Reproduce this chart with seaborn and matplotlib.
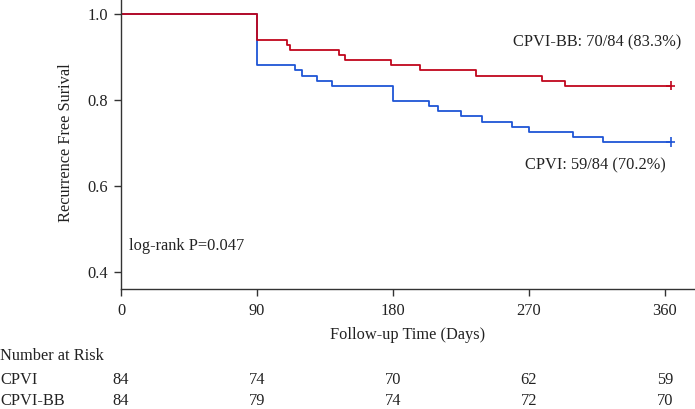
import matplotlib
matplotlib.use("Agg")
import matplotlib.pyplot as plt
import matplotlib.transforms as mtransforms
import numpy as np
import pandas as pd
import seaborn as sns

# ---- data ----
bb_days = [0, 90, 110, 112, 144, 148, 179, 198, 235, 279, 294, 364]
bb_surv = [1.0, 0.940, 0.929, 0.917, 0.905, 0.893, 0.881, 0.869, 0.857, 0.845, 0.833, 0.833]
cpvi_days = [0, 90, 115, 120, 130, 140, 180, 204, 210, 225, 239, 259, 270, 299, 319, 364]
cpvi_surv = [1.0, 0.881, 0.869, 0.857, 0.845, 0.833, 0.798, 0.786, 0.774, 0.762, 0.750,
             0.738, 0.726, 0.714, 0.702, 0.702]
risk_times = [0, 90, 180, 270, 360]
cpvi_risk = [84, 74, 70, 62, 59]
bb_risk = [84, 79, 74, 72, 70]
groups = ["CPVI", "CPVI-BB"]
x_ticks = [0, 90, 180, 270, 360]
y_ticks = [0.4, 0.6, 0.8, 1.0]

sns.set_theme(style="ticks")
plt.rcParams["font.family"] = ["Liberation Serif", "DejaVu Serif"]
FS = 11.8
plt.rcParams["font.size"] = FS

W, H = 695, 409
fig = plt.figure(figsize=(W / 100, H / 100), dpi=100)
ax = fig.add_axes([121 / W, 1 - 289 / H, (W - 121) / W, 289 / H])

df = pd.concat([
    pd.DataFrame({"day": cpvi_days, "surv": cpvi_surv, "group": groups[0]}),
    pd.DataFrame({"day": bb_days, "surv": bb_surv, "group": groups[1]}),
], ignore_index=True)

palette = {"CPVI": "#1f55d6", "CPVI-BB": "#c0061c"}
sns.lineplot(data=df, x="day", y="surv", hue="group", palette=palette,
             drawstyle="steps-post", estimator=None, sort=False, legend=False,
             linewidth=1.3, ax=ax)

ends = df.groupby("group").tail(1)
sns.scatterplot(data=ends, x="day", y="surv", hue="group", palette=palette,
                marker="+", s=45, linewidth=1.2, legend=False, ax=ax, zorder=5, clip_on=False)

ax.set_xlim(0, 380)
ax.set_ylim(0.3605, 1.0326)
ax.set_xticks(x_ticks)
ax.set_yticks(y_ticks)
ax.set_yticklabels([f"{v:.1f}" for v in y_ticks])
sns.despine(ax=ax)
for s in ["left", "bottom"]:
    ax.spines[s].set_color("#333333")
    ax.spines[s].set_linewidth(1.0)
ax.tick_params(axis="both", direction="out", length=5, width=1.0, color="#333333",
               labelsize=FS, labelcolor="#222222")
ax.tick_params(axis="x", pad=5)
ax.tick_params(axis="y", pad=4)

ax.set_xlabel("Follow-up Time (Days)", fontsize=FS, color="#222222")
ax.xaxis.label.set_va("center")
ax.xaxis.set_label_coords(0.5, -(335 - 289) / 289)
ax.set_ylabel("Recurrence Free Surival", fontsize=FS, color="#222222")
ax.yaxis.label.set_va("center")
ax.yaxis.set_label_coords((66 - 121) / (W - 121), (289 - 143) / 289)

def fx(px):
    return px / W

def fy(py):
    return 1 - py / H

fig.text(fx(513), fy(42), "CPVI-BB: 70/84 (83.3%)", fontsize=FS, va="center", ha="left", color="#222222")
fig.text(fx(525), fy(165), "CPVI: 59/84 (70.2%)", fontsize=FS, va="center", ha="left", color="#222222")
fig.text(fx(129), fy(246), "log-rank P=0.047", fontsize=FS, va="center", ha="left", color="#222222")

fig.text(fx(0), fy(356), "Number at Risk", fontsize=FS, va="center", ha="left", color="#222222")
fig.text(fx(0), fy(380), "CPVI", fontsize=FS, va="center", ha="left", color="#222222")
fig.text(fx(0), fy(401), "CPVI-BB", fontsize=FS, va="center", ha="left", color="#222222")

trans = mtransforms.blended_transform_factory(ax.transData, fig.transFigure)
for t, a, b in zip(risk_times, cpvi_risk, bb_risk):
    ax.text(t, fy(380), str(a), transform=trans, fontsize=FS, ha="center", va="center",
            color="#222222", clip_on=False)
    ax.text(t, fy(401), str(b), transform=trans, fontsize=FS, ha="center", va="center",
            color="#222222", clip_on=False)

fig.savefig("out.png", dpi=100)
